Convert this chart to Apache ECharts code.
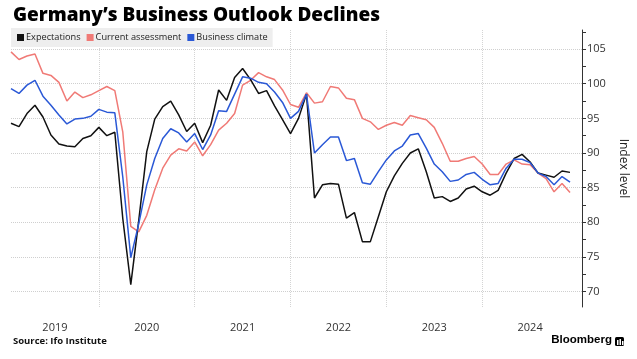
<!DOCTYPE html>
<html>
<head>
<meta charset="utf-8">
<script src="https://cdn.jsdelivr.net/npm/echarts@6/dist/echarts.min.js"></script>
<style>
  html, body { margin: 0; padding: 0; background: #ffffff; }
  #chart { width: 637px; height: 359px; }
</style>
</head>
<body>
<div id="chart"></div>
<script>
// Monthly observations, Jan 2019 .. Nov 2024
const months = [
  '2019-01','2019-02','2019-03','2019-04','2019-05','2019-06','2019-07','2019-08','2019-09','2019-10','2019-11','2019-12',
  '2020-01','2020-02','2020-03','2020-04','2020-05','2020-06','2020-07','2020-08','2020-09','2020-10','2020-11','2020-12',
  '2021-01','2021-02','2021-03','2021-04','2021-05','2021-06','2021-07','2021-08','2021-09','2021-10','2021-11','2021-12',
  '2022-01','2022-02','2022-03','2022-04','2022-05','2022-06','2022-07','2022-08','2022-09','2022-10','2022-11','2022-12',
  '2023-01','2023-02','2023-03','2023-04','2023-05','2023-06','2023-07','2023-08','2023-09','2023-10','2023-11','2023-12',
  '2024-01','2024-02','2024-03','2024-04','2024-05','2024-06','2024-07','2024-08','2024-09','2024-10','2024-11'
];

const expectations = [
  94.3, 93.8, 95.7, 96.9, 95.2, 92.6, 91.3, 91.0, 90.9, 92.1, 92.5, 93.7,
  92.5, 93.0, 80.5, 71.0, 80.3, 90.2, 94.9, 96.7, 97.5, 95.5, 93.1, 94.3,
  91.5, 94.0, 99.1, 97.6, 100.9, 102.2, 100.6, 98.6, 99.0, 96.8, 94.8, 92.8,
  95.0, 98.5, 83.5, 85.4, 85.6, 85.5, 80.6, 81.4, 77.2, 77.2, 80.8, 84.4,
  86.7, 88.5, 90.0, 90.6, 87.3, 83.5, 83.7, 83.0, 83.5, 84.8, 85.2, 84.4,
  83.9, 84.6, 87.1, 89.2, 89.8, 88.7, 87.1, 86.8, 86.5, 87.4, 87.2
];

const currentAssessment = [
  104.6, 103.5, 104.0, 104.3, 101.5, 101.2, 100.2, 97.5, 98.8, 98.0, 98.4, 99.0,
  99.6, 99.0, 93.0, 79.4, 78.6, 81.0, 84.7, 87.8, 89.7, 90.6, 90.3, 91.6,
  89.6, 91.2, 93.3, 94.3, 95.7, 99.8, 100.5, 101.6, 101.0, 100.6, 99.1, 97.0,
  96.6, 98.7, 97.2, 97.4, 99.6, 99.4, 97.9, 97.7, 95.0, 94.5, 93.4, 94.0,
  94.4, 94.0, 95.4, 95.1, 94.8, 93.7, 91.4, 88.8, 88.8, 89.2, 89.5, 88.4,
  86.9, 86.9, 88.4, 89.0, 88.4, 88.3, 87.1, 86.3, 84.4, 85.6, 84.3
];

const businessClimate = [
  99.3, 98.6, 99.8, 100.5, 98.2, 96.9, 95.5, 94.2, 94.9, 95.0, 95.3, 96.3,
  95.9, 95.8, 86.5, 74.9, 79.8, 85.4, 89.2, 92.1, 93.5, 92.9, 91.6, 92.8,
  90.5, 92.6, 96.1, 96.0, 98.5, 101.0, 100.8, 100.2, 100.0, 98.8, 97.3, 95.0,
  96.0, 98.5, 90.0, 91.2, 92.3, 92.3, 88.9, 89.2, 85.7, 85.5, 87.3, 89.0,
  90.3, 91.0, 92.6, 92.8, 90.7, 88.4, 87.3, 85.9, 86.1, 86.9, 87.2, 86.2,
  85.4, 85.6, 87.8, 89.1, 89.1, 88.6, 87.1, 86.6, 85.4, 86.6, 85.8
];

const yearLabels = ['2019', '2020', '2021', '2022', '2023', '2024'];
const yTickLabels = [70, 75, 80, 85, 90, 95, 100, 105];

const seriesNames = ['Expectations', 'Current assessment', 'Business climate'];
const seriesColors = ['#111111', '#f07a76', '#2a58d6'];

// months since 1 Jan 2019, observation plotted at month end
function monthPos(s) {
  const [y, m] = s.split('-').map(Number);
  return (y - 2019) * 12 + m;
}
function pairs(values) {
  return values.map((v, i) => [monthPos(months[i]), v]);
}

const yearBoundaries = yearLabels.slice(1).map((y, i) => (i + 1) * 12);
const yearMidpoints = yearLabels.map((y, i) => i === 0 ? 6.5 : i * 12 + 6);
const yTicks = [];
for (let i = 0; i < yTickLabels.length; i++) {
  yTicks.push(yTickLabels[i]);
  yTicks.push(yTickLabels[i] + 2.5);
}

const chart = echarts.init(document.getElementById('chart'), null, { renderer: 'canvas' });
const FONT = '"Open Sans", "Noto Sans", sans-serif';

chart.setOption({
  animation: false,
  backgroundColor: '#ffffff',
  title: {
    text: 'Germany\u2019s Business Outlook Declines',
    left: 8,
    top: 1,
    textStyle: { fontFamily: FONT, fontSize: 19, fontWeight: 800, color: '#000000' }
  },
  legend: {
    left: 11,
    top: 28,
    padding: [5, 5, 5, 6],
    itemGap: 6,
    itemWidth: 7,
    itemHeight: 7,
    icon: 'rect',
    backgroundColor: '#eeeeee',
    textStyle: { fontFamily: FONT, fontSize: 9.2, color: '#222222', padding: [0, 0, 0, -3] },
    data: seriesNames
  },
  grid: { left: 11, right: 49, top: 30, bottom: 52, containLabel: false },
  xAxis: {
    type: 'value',
    min: 1,
    max: 72.5,
    axisLine: { show: false },
    axisTick: { show: false, customValues: yearBoundaries },
    splitLine: { show: true, lineStyle: { color: '#d4d4d4', type: 'dotted', width: 1 } },
    axisLabel: {
      customValues: yearMidpoints,
      formatter: v => yearLabels[Math.floor(v / 12)],
      margin: 15,
      fontFamily: FONT,
      fontSize: 11,
      color: '#333333'
    }
  },
  yAxis: {
    type: 'value',
    position: 'right',
    min: 67.76,
    max: 107.76,
    name: 'Index level',
    nameLocation: 'middle',
    nameRotate: -90,
    nameGap: 35,
    nameTextStyle: { fontFamily: FONT, fontSize: 12, color: '#222222' },
    axisLine: { show: true, lineStyle: { color: '#333333', width: 1 } },
    axisTick: { show: true, inside: false, length: 4, customValues: yTicks, lineStyle: { color: '#333333' } },
    splitLine: { show: true, lineStyle: { color: ['#cfcfcf', 'transparent'], type: 'dotted', width: 1 } },
    axisLabel: {
      customValues: yTickLabels,
      margin: 5,
      fontFamily: FONT,
      fontSize: 11,
      color: '#333333'
    }
  },
  series: [
    { name: seriesNames[0], type: 'line', data: pairs(expectations), showSymbol: false, symbol: 'none',
      itemStyle: { color: seriesColors[0] }, lineStyle: { color: seriesColors[0], width: 1.5 }, z: 3 },
    { name: seriesNames[1], type: 'line', data: pairs(currentAssessment), showSymbol: false, symbol: 'none',
      itemStyle: { color: seriesColors[1] }, lineStyle: { color: seriesColors[1], width: 1.5 }, z: 2 },
    { name: seriesNames[2], type: 'line', data: pairs(businessClimate), showSymbol: false, symbol: 'none',
      itemStyle: { color: seriesColors[2] }, lineStyle: { color: seriesColors[2], width: 1.5 }, z: 4 }
  ],
  graphic: [
    { type: 'text', left: 13, top: 336,
      style: { text: 'Source: Ifo Institute', fontFamily: FONT, fontSize: 9.5, fontWeight: 'bold', fill: '#111111' } },
    { type: 'text', right: 25, top: 334,
      style: { text: 'Bloomberg', fontFamily: '"Liberation Sans", Arial, sans-serif', fontSize: 11.5, fontWeight: 'bold', fill: '#000000' } },
    { type: 'rect', left: 615, top: 337, shape: { width: 9, height: 9, r: 1.5 }, style: { fill: '#000000' } },
    { type: 'rect', left: 617, top: 340, shape: { width: 1.5, height: 5 }, style: { fill: '#ffffff' } },
    { type: 'rect', left: 619.5, top: 339, shape: { width: 1.5, height: 6 }, style: { fill: '#ffffff' } },
    { type: 'rect', left: 622, top: 341, shape: { width: 1.5, height: 4 }, style: { fill: '#ffffff' } }
  ]
});
</script>
</body>
</html>
